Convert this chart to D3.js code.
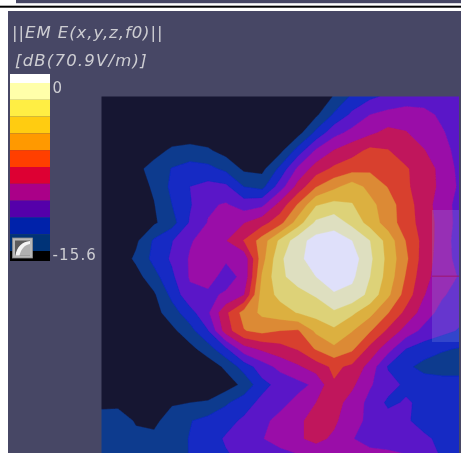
<!DOCTYPE html>
<html>
<head>
<meta charset="utf-8">
<script src="https://cdn.jsdelivr.net/npm/d3@7"></script>
<style>
html,body{margin:0;padding:0;background:#fff;overflow:hidden}
svg{display:block}
text{font-family:"DejaVu Sans",sans-serif;fill:#cdcdd2}
</style>
</head>
<body>
<svg id="c" width="461" height="453"></svg>
<script>
// Field level: one row per 18 px, each unit is one colour band
const fieldRows = [
[.3,.3,.3,.3,.3,.3,.3,.3,.3,.3,.3,.3,.5,1.05,2.2,2.8,3.2,3.4,3.5,3.5,3.5],
[.3,.3,.3,.3,.3,.3,.3,.3,.3,.3,.3,.3,.8,2.15,3.2,4.0,4.3,4.5,4.3,3.8,3.4],
[.3,.3,.3,.3,.3,.3,.3,.3,.3,.3,.3,.6,2.25,3.65,4.3,4.8,5.3,5.05,4.55,4.1,3.5],
[.3,.3,.3,.6,1.2,1.4,1.15,.6,.3,.3,.7,2.45,4.15,5.05,5.6,6.25,6.05,5.5,5.05,4.4,3.6],
[.3,.3,.7,1.4,2.05,2.4,2.3,1.75,.8,.7,2.25,4.2,5.45,6.2,6.6,6.8,6.6,6.1,5.5,4.7,3.7],
[.3,.3,.5,1.15,2.25,3.0,3.3,3.2,2.0,1.7,3.5,5.35,6.95,7.75,8.5,7.7,6.95,6.15,5.5,4.75,3.8],
[.3,.3,.5,.95,2.0,2.9,3.85,4.1,3.5,3.75,5.35,7.1,8.9,9.3,9.05,8.3,7.45,6.45,5.45,4.5,3.6],
[.3,.3,.6,.85,1.6,3.1,4.05,4.5,4.95,5.6,6.65,8.5,10.2,10.6,9.7,8.6,7.5,6.5,5.55,4.6,3.6],
[.3,.3,.8,2.15,2.95,3.9,4.45,4.95,6.05,7.45,9.2,10.6,11.4,11.5,11.0,10.0,8.6,6.95,5.65,4.5,3.5],
[.3,.3,1.2,2.3,3.15,4.1,4.35,4.1,4.3,7.6,9.8,10.8,11.4,11.6,11.5,10.2,8.7,7.2,5.5,4.5,3.6],
[.3,.3,.6,1.65,2.8,4.1,4.3,3.7,4.2,8.1,9.8,10.4,11.0,11.5,11.2,10.0,8.6,6.9,5.3,4.5,3.9],
[.3,.3,.3,.85,2.3,3.75,3.85,4.1,4.95,8.45,9.25,9.7,10.1,10.9,10.7,9.7,8.2,6.55,5.05,4.15,3.5],
[.3,.3,.3,.6,1.55,2.6,3.85,5.8,7.4,8.2,8.6,9.05,9.4,9.85,9.2,8.3,7.05,5.7,4.55,3.6,3.3],
[.3,.3,.3,.3,.75,1.65,2.95,5.5,6.95,7.3,7.0,6.9,8.2,8.8,8.05,7.1,5.8,4.6,3.7,3.3,2.9],
[.3,.3,.3,.3,.3,.7,1.55,2.85,4.6,5.2,5.6,6.1,7.1,7.8,7.2,5.7,4.4,3.0,2.5,2.1,1.95],
[.3,.3,.3,.3,.3,.3,.4,1.2,2.45,3.5,4.3,4.85,5.5,6.2,5.8,4.6,2.9,2.2,1.7,1.6,1.6],
[.3,.3,.3,.3,.3,.3,.3,.5,1.25,2.7,3.3,3.7,4.2,5.9,5.2,4.1,3.4,2.8,2.5,2.4,2.4],
[.7,.75,.6,.6,.9,1.0,1.1,1.85,2.6,3.25,3.7,4.3,5.0,5.4,4.6,3.7,2.8,3.1,2.8,2.4,2.3],
[1.5,1.5,.9,.8,1.4,1.95,2.35,2.7,3.15,3.75,4.3,4.85,5.3,5.2,4.3,3.8,3.4,3.1,2.7,2.4,2.3],
[1.5,1.5,1.25,1.2,1.6,2.05,2.6,3.1,3.5,3.95,4.4,4.85,5.3,4.8,4.05,3.6,3.5,3.4,3.15,2.8,2.5],
[1.5,1.5,1.5,1.5,1.5,2.05,2.4,2.9,3.2,3.4,3.6,3.85,4.2,4.4,4.4,4.4,4.3,4.1,3.6,2.9,2.6]
];
const fieldThresholds = [1,2,3,4,5,6,7,8,9,10,11];
const fieldColors = ["#141633","#113a8e","#1229c4","#5a15c8","#9a10a8","#c0145c","#d8402e","#dc8a34","#dcb040","#ddd278","#dedfc0","#dfe0fa"];
const legendEdges = [0,-1.56,-3.12,-4.68,-6.24,-7.8,-9.36,-10.92,-12.48,-14.04,-15.6];
const legendColors = ["#ffffff","#ffffaa","#ffee44","#ffcc11","#ff9900","#ff3f00","#dd0033","#aa0088","#5500aa","#0022aa","#003377","#000000"];
const legendTicks = [0,-15.6];
const titleLines = ["||EM E(x,y,z,f0)||","[dB(70.9V/m)]"];

const svg = d3.select("#c");
const panel = "#474765";

// page furniture
svg.append("rect").attr("x",16).attr("y",0).attr("width",445).attr("height",3.2).attr("fill",panel);
svg.append("rect").attr("x",0).attr("y",5.7).attr("width",461).attr("height",2).attr("fill","#000");
svg.append("rect").attr("x",8).attr("y",11).attr("width",453).attr("height",442).attr("fill",panel);

const defs = svg.append("defs");
defs.append("filter").attr("id","soft").append("feGaussianBlur").attr("stdDeviation",0.45);
defs.append("filter").attr("id","softText").append("feGaussianBlur").attr("stdDeviation",0.3);
defs.append("clipPath").attr("id","plot").append("rect").attr("x",101.5).attr("y",96.5).attr("width",357.5).attr("height",356.5);

// contour field
const nx = fieldRows[0].length, ny = fieldRows.length;
const x = d3.scaleLinear().domain([0.5,nx-0.5]).range([100,460]);
const y = d3.scaleLinear().domain([0.5,ny-0.5]).range([96.67,456.67]);
const color = d3.scaleThreshold().domain(fieldThresholds).range(fieldColors);
const project = d3.geoTransform({point(px,py){this.stream.point(x(px),y(py));}});
const path = d3.geoPath(project);
const contours = d3.contours().size([nx,ny]).thresholds(fieldThresholds)(fieldRows.flat());

const plot = svg.append("g").attr("clip-path","url(#plot)");
const inner = plot.append("g").attr("filter","url(#soft)");
inner.append("rect").attr("x",95).attr("y",90).attr("width",370).attr("height",370).attr("fill",fieldColors[0]);
inner.selectAll("path").data(contours).join("path")
  .attr("d",path).attr("fill",d=>color(d.value)).attr("stroke",d=>color(d.value)).attr("stroke-width",.3);

// translucent overlay at the right edge
plot.append("rect").attr("x",432).attr("y",210).attr("width",30).attr("height",132).attr("fill","#8f9ee0").attr("fill-opacity",.24);
plot.append("rect").attr("x",432).attr("y",275.7).attr("width",30).attr("height",.9).attr("fill","#a01060").attr("fill-opacity",.9);

// legend
const ly = d3.scaleLinear().domain([0,-15.6]).range([83,251]);
const tops = [74].concat(legendEdges.map(ly));
const bots = legendEdges.map(ly).concat([261]);
svg.append("g").selectAll("rect").data(legendColors).join("rect")
  .attr("x",10).attr("width",40)
  .attr("y",(d,i)=>tops[i]).attr("height",(d,i)=>bots[i]-tops[i]).attr("fill",d=>d);

// legend icon
const ic = svg.append("g").attr("transform","translate(12.5,238)");
ic.append("rect").attr("width",20).attr("height",20).attr("fill","#b8b8b8").attr("stroke","#8a8a8a").attr("stroke-width",.8);
ic.append("rect").attr("x",2.5).attr("y",2.5).attr("width",15).attr("height",15).attr("fill","#5c5c5c");
ic.append("path").attr("d","M3 17.5 L17.5 17.5 L17.5 5 C11 6 6 10 3 17.5 Z").attr("fill","#b0b0b0");
ic.append("path").attr("d","M3 17.5 C4 9 10 3.5 17.5 3 L17.5 6 C12 7 8.5 11 7 17.5 Z").attr("fill","#f4f4f4");

// legend labels
const texts = svg.append("g").attr("filter","url(#softText)");
texts.selectAll("text.tick").data(legendTicks).join("text").attr("class","tick")
  .attr("x",52.5).attr("y",d=>d===0?92.5:259.5).attr("font-size",15).attr("letter-spacing",1.15).text(d=>d);

// title
texts.append("text").attr("x",12).attr("y",38).attr("font-size",16.5).attr("letter-spacing",.95).attr("font-style","italic").text(titleLines[0]);
texts.append("text").attr("x",15).attr("y",66).attr("font-size",16.5).attr("letter-spacing",1.2).attr("font-style","italic").text(titleLines[1]);
</script>
</body>
</html>
